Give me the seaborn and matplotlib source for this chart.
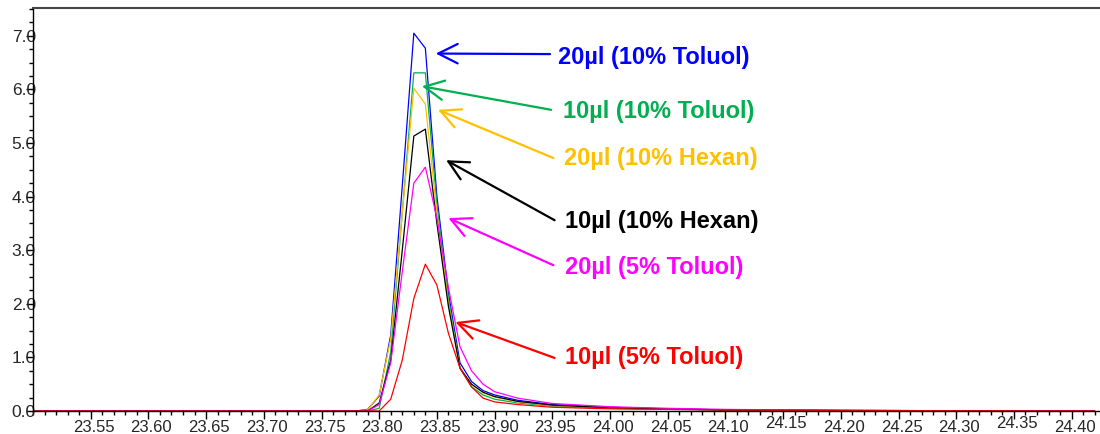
import numpy as np
import pandas as pd
import matplotlib
matplotlib.use("Agg")
import matplotlib.pyplot as plt
from matplotlib.ticker import MultipleLocator, FixedLocator
from matplotlib.transforms import ScaledTranslation
import seaborn as sns

# ---- data (retention time in min, signal) ----
time = [23.50, 23.78, 23.79, 23.80, 23.81, 23.82, 23.83, 23.84, 23.85, 23.86,
        23.87, 23.88, 23.89, 23.90, 23.92, 23.95, 24.00, 24.05, 24.10, 24.20, 24.42]

s20_tol10 = [0, 0, 0.03, 0.28, 1.42, 4.20, 7.05, 6.77, 4.00, 2.20,
             0.90, 0.55, 0.38, 0.30, 0.20, 0.12, 0.07, 0.04, 0.02, 0.01, 0]
s10_tol10 = [0, 0, 0.00, 0.05, 1.10, 3.70, 6.31, 6.31, 3.85, 2.10,
             0.80, 0.45, 0.30, 0.22, 0.15, 0.09, 0.05, 0.03, 0.02, 0.01, 0]
s20_hex10 = [0, 0, 0.02, 0.30, 1.35, 3.70, 6.02, 5.73, 3.70, 2.00,
             0.80, 0.50, 0.34, 0.26, 0.17, 0.10, 0.06, 0.04, 0.02, 0.01, 0]
s10_hex10 = [0, 0, 0.00, 0.15, 0.95, 3.00, 5.13, 5.26, 3.50, 1.95,
             0.80, 0.50, 0.35, 0.27, 0.18, 0.11, 0.06, 0.04, 0.02, 0.01, 0]
s20_tol5 = [0, 0, 0.00, 0.12, 0.90, 2.60, 4.25, 4.55, 3.60, 2.30,
            1.20, 0.75, 0.50, 0.36, 0.24, 0.14, 0.08, 0.05, 0.03, 0.01, 0]
s10_tol5 = [0, 0, 0.00, 0.00, 0.22, 0.95, 2.10, 2.74, 2.35, 1.45,
            0.80, 0.45, 0.24, 0.17, 0.12, 0.07, 0.04, 0.03, 0.02, 0.01, 0]

labels = ["20µl (10% Toluol)", "10µl (10% Toluol)", "20µl (10% Hexan)",
          "10µl (10% Hexan)", "20µl (5% Toluol)", "10µl (5% Toluol)"]
series = [s20_tol10, s10_tol10, s20_hex10, s10_hex10, s20_tol5, s10_tol5]
colors = ["#0000FF", "#00B050", "#FFC000", "#000000", "#FF00FF", "#FF0000"]

x_ticks = [23.55, 23.60, 23.65, 23.70, 23.75, 23.80, 23.85, 23.90, 23.95, 24.00,
           24.05, 24.10, 24.15, 24.20, 24.25, 24.30, 24.35, 24.40]
y_ticks = [0, 1, 2, 3, 4, 5, 6, 7]

# annotation layout: (arrow tip x, tip y, tail x, tail y, text x, text y)
ann_pos = [
    (23.849, 6.67, 23.948, 6.66, 23.955, 6.60),
    (23.837, 6.06, 23.949, 5.62, 23.959, 5.58),
    (23.851, 5.62, 23.951, 4.72, 23.960, 4.72),
    (23.858, 4.68, 23.952, 3.56, 23.961, 3.54),
    (23.860, 3.60, 23.951, 2.72, 23.961, 2.67),
    (23.866, 1.66, 23.952, 0.99, 23.961, 0.99),
]

sns.set_style("ticks")
plt.rcParams["font.family"] = ["Liberation Sans", "DejaVu Sans"]

fig = plt.figure(figsize=(11, 4.34), dpi=100)
ax = fig.add_axes([33 / 1100, 23 / 434, 1 - 33 / 1100, (411 - 8) / 434])

for lab, ys, c in zip(labels, series, colors):
    df = pd.DataFrame({"t": time, "v": ys})
    sns.lineplot(data=df, x="t", y="v", color=c, lw=0.9, ax=ax, legend=False)

ax.set_xlim(23.50, 23.50 + 1067 / 1154)
ax.set_ylim(0, 7.52)
ax.set_xlabel("")
ax.set_ylabel("")

ax.xaxis.set_major_locator(FixedLocator(x_ticks))
ax.xaxis.set_minor_locator(MultipleLocator(0.01))
ax.yaxis.set_major_locator(FixedLocator(y_ticks))
ax.yaxis.set_minor_locator(MultipleLocator(0.25))
ax.set_xticklabels([f"{v:.2f}" for v in x_ticks])
ax.set_yticklabels([f"{v:.1f}" for v in y_ticks])

ax.tick_params(axis="x", which="major", direction="out", length=6, width=1,
               pad=0.2, labelsize=12, color="black")
ax.tick_params(axis="x", which="minor", direction="out", length=3, width=1, color="black")
ax.tick_params(axis="y", which="major", direction="out", length=5, width=1,
               pad=-7, labelsize=12.5, color="black")
ax.tick_params(axis="y", which="minor", direction="out", length=3, width=1, color="black")

for lab in ax.get_xticklabels():
    dy = 0
    if lab.get_text() in ("24.15", "24.35"):
        dy = 4
    lab.set_transform(lab.get_transform() + ScaledTranslation(3 / 100, dy / 100, fig.dpi_scale_trans))

ax.spines["right"].set_visible(False)
ax.spines["top"].set_color("#444444")
ax.spines["top"].set_linewidth(1.5)
ax.spines["left"].set_color("black")
ax.spines["left"].set_linewidth(1)
ax.spines["bottom"].set_color("black")
ax.spines["bottom"].set_linewidth(1)

for lab, c, (tx, ty, sx, sy, lx, ly) in zip(labels, colors, ann_pos):
    ax.annotate("", xy=(tx, ty), xytext=(sx, sy),
                arrowprops=dict(arrowstyle="->,head_length=1.0,head_width=0.5",
                                color=c, lw=1.6, shrinkA=0, shrinkB=0,
                                mutation_scale=14))
    ax.text(lx, ly, lab, color=c, fontsize=17, fontweight="bold",
            ha="left", va="center")

fig.savefig("out.png", dpi=100)
